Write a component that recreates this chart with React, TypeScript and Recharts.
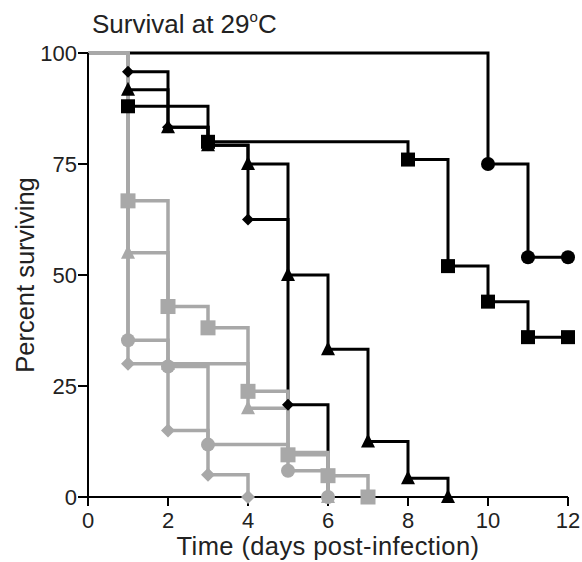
import React from 'react';
import { LineChart, Line, XAxis, YAxis } from 'recharts';

// Tick labels
const xTicks = [0, 2, 4, 6, 8, 10, 12];
const yTicks = [0, 25, 50, 75, 100];

// Black series (Kaplan-Meier steps)
const blackCircleDays = [0, 10, 11, 12];
const blackCircleVals = [100, 75, 54, 54];

const blackSquareDays = [0, 1, 3, 8, 9, 10, 11, 12];
const blackSquareVals = [100, 88, 80, 76, 52, 44, 36, 36];

const blackTriangleDays = [0, 1, 2, 3, 4, 5, 6, 7, 8, 9];
const blackTriangleVals = [100, 91.7, 83.3, 79.2, 75, 50, 33.3, 12.5, 4.2, 0];

const blackDiamondDays = [0, 1, 2, 3, 4, 5, 6];
const blackDiamondVals = [100, 95.8, 83.3, 79.2, 62.5, 20.8, 0];

// Gray series
const grayCircleDays = [0, 1, 2, 3, 5, 6];
const grayCircleVals = [100, 35.3, 29.4, 11.8, 5.9, 0];

const graySquareDays = [0, 1, 2, 3, 4, 5, 6, 7];
const graySquareVals = [100, 66.7, 42.9, 38.1, 23.8, 9.5, 4.8, 0];

const grayTriangleDays = [0, 1, 2, 4, 5, 6];
const grayTriangleVals = [100, 55, 30, 20, 10, 0];

const grayDiamondDays = [0, 1, 2, 3, 4];
const grayDiamondVals = [100, 30, 15, 5, 0];

const BLACK = '#000000';
const GRAY = '#a8a8a8';

const build = (days: number[], vals: number[]) =>
  days.map((d, i) => ({ day: d, pct: vals[i] }));

type Shape = 'circle' | 'square' | 'triangle' | 'diamond';

const makeDot = (shape: Shape, color: string, size: number) => (props: any) => {
  const { cx, cy, index } = props;
  const key = `${shape}-${color}-${index}`;
  if (index === 0 || cx == null || cy == null) return <g key={key} />;
  const h = size / 2;
  if (shape === 'circle') return <circle key={key} cx={cx} cy={cy} r={h} fill={color} />;
  if (shape === 'square')
    return <rect key={key} x={cx - h} y={cy - h} width={size} height={size} fill={color} />;
  if (shape === 'triangle')
    return (
      <polygon
        key={key}
        points={`${cx},${cy - h - 1} ${cx - h},${cy + h - 1} ${cx + h},${cy + h - 1}`}
        fill={color}
      />
    );
  return (
    <polygon
      key={key}
      points={`${cx},${cy - h} ${cx + h},${cy} ${cx},${cy + h} ${cx - h},${cy}`}
      fill={color}
    />
  );
};

const series = [
  { name: 'bc', data: build(blackCircleDays, blackCircleVals), color: BLACK, shape: 'circle' as Shape, size: 14, w: 3 },
  { name: 'bs', data: build(blackSquareDays, blackSquareVals), color: BLACK, shape: 'square' as Shape, size: 14, w: 3 },
  { name: 'bt', data: build(blackTriangleDays, blackTriangleVals), color: BLACK, shape: 'triangle' as Shape, size: 14, w: 3 },
  { name: 'bd', data: build(blackDiamondDays, blackDiamondVals), color: BLACK, shape: 'diamond' as Shape, size: 12, w: 3 },
  { name: 'gc', data: build(grayCircleDays, grayCircleVals), color: GRAY, shape: 'circle' as Shape, size: 14, w: 3.5 },
  { name: 'gs', data: build(graySquareDays, graySquareVals), color: GRAY, shape: 'square' as Shape, size: 15, w: 3.5 },
  { name: 'gt', data: build(grayTriangleDays, grayTriangleVals), color: GRAY, shape: 'triangle' as Shape, size: 14, w: 3.5 },
  { name: 'gd', data: build(grayDiamondDays, grayDiamondVals), color: GRAY, shape: 'diamond' as Shape, size: 14, w: 3.5 },
];

const FONT = '"Liberation Sans", Arial, Helvetica, sans-serif';

export default function App() {
  return (
    <div
      style={{
        position: 'absolute',
        left: 0,
        top: 0,
        width: 582,
        height: 562,
        fontFamily: FONT,
        background: '#fff',
      }}
    >
      <div
        style={{
          position: 'absolute',
          left: 92,
          top: 9,
          fontSize: 26,
          color: '#222',
          whiteSpace: 'nowrap',
          lineHeight: '30px',
        }}
      >
        Survival at 29
        <span style={{ fontSize: 15, position: 'relative', top: -11 }}>o</span>C
      </div>
      <LineChart width={582} height={562} margin={{ top: 53, right: 14, left: 0, bottom: 35 }}>
        <XAxis
          type="number"
          dataKey="day"
          domain={[0, 12]}
          ticks={xTicks}
          allowDuplicatedCategory={false}
          height={30}
          tickSize={9}
          tickMargin={6}
          stroke="#000"
          strokeWidth={2}
          tick={{ fill: '#222', fontSize: 22, fontFamily: FONT }}
          tickLine={{ stroke: '#000', strokeWidth: 2 }}
          label={{
            content: (p: any) => {
              const vb = p.viewBox || { x: 88, y: 497, width: 480, height: 30 };
              return (
                <text
                  x={vb.x + vb.width / 2}
                  y={vb.y + 58}
                  textAnchor="middle"
                  fontSize={25.5}
                  letterSpacing={0.4}
                  fontFamily={FONT}
                  fill="#222"
                >
                  Time (days post-infection)
                </text>
              );
            },
          }}
        />
        <YAxis
          type="number"
          domain={[0, 100]}
          ticks={yTicks}
          width={88}
          tickSize={10}
          tickMargin={1}
          stroke="#000"
          strokeWidth={2}
          tick={{ fill: '#222', fontSize: 22, fontFamily: FONT }}
          tickLine={{ stroke: '#000', strokeWidth: 2 }}
          label={{
            content: (p: any) => {
              const vb = p.viewBox || { x: 0, y: 53, width: 88, height: 444 };
              const cy = vb.y + vb.height / 2;
              return (
                <text
                  x={34}
                  y={cy}
                  transform={`rotate(-90, 34, ${cy})`}
                  textAnchor="middle"
                  fontSize={25.5}
                  fontFamily={FONT}
                  fill="#222"
                >
                  Percent surviving
                </text>
              );
            },
          }}
        />
        {series.map((s) => (
          <Line
            key={s.name}
            data={s.data}
            dataKey="pct"
            type="stepAfter"
            stroke={s.color}
            strokeWidth={s.w}
            dot={makeDot(s.shape, s.color, s.size)}
            activeDot={false}
            isAnimationActive={false}
          />
        ))}
      </LineChart>
    </div>
  );
}
